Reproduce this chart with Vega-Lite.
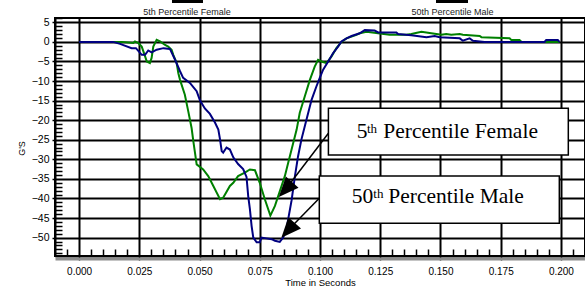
{
  "$schema": "https://vega.github.io/schema/vega-lite/v6.json",
  "width": 530,
  "height": 238,
  "autosize": {"type": "none"},
  "padding": {"left": 55, "top": 18, "right": 0, "bottom": 35},
  "background": "white",
  "config": {
    "view": {"stroke": "black", "strokeWidth": 2},
    "axis": {"labelFont": "Liberation Sans", "titleFont": "Liberation Sans", "labelColor": "black", "titleColor": "black", "titleFontWeight": "normal"}
  },
  "datasets": {
    "curves": [
      {"series": "5th Percentile Female", "time": 0, "gs": 0},
      {"series": "5th Percentile Female", "time": 0.0177, "gs": 0},
      {"series": "5th Percentile Female", "time": 0.0225, "gs": -0.3},
      {"series": "5th Percentile Female", "time": 0.0232, "gs": 0.1},
      {"series": "5th Percentile Female", "time": 0.0246, "gs": -0.3},
      {"series": "5th Percentile Female", "time": 0.026, "gs": -1.2},
      {"series": "5th Percentile Female", "time": 0.0274, "gs": -3.7},
      {"series": "5th Percentile Female", "time": 0.0281, "gs": -5.0},
      {"series": "5th Percentile Female", "time": 0.0294, "gs": -5.4},
      {"series": "5th Percentile Female", "time": 0.0301, "gs": -4.1},
      {"series": "5th Percentile Female", "time": 0.0308, "gs": -1.2},
      {"series": "5th Percentile Female", "time": 0.0322, "gs": 0.5},
      {"series": "5th Percentile Female", "time": 0.0336, "gs": 0.1},
      {"series": "5th Percentile Female", "time": 0.0357, "gs": -0.8},
      {"series": "5th Percentile Female", "time": 0.037, "gs": -1.2},
      {"series": "5th Percentile Female", "time": 0.0384, "gs": -2.0},
      {"series": "5th Percentile Female", "time": 0.0391, "gs": -3.3},
      {"series": "5th Percentile Female", "time": 0.0405, "gs": -5.4},
      {"series": "5th Percentile Female", "time": 0.0412, "gs": -8.0},
      {"series": "5th Percentile Female", "time": 0.0419, "gs": -9.7},
      {"series": "5th Percentile Female", "time": 0.0439, "gs": -13.5},
      {"series": "5th Percentile Female", "time": 0.0453, "gs": -17.7},
      {"series": "5th Percentile Female", "time": 0.0467, "gs": -22.0},
      {"series": "5th Percentile Female", "time": 0.0474, "gs": -25.3},
      {"series": "5th Percentile Female", "time": 0.0481, "gs": -28.3},
      {"series": "5th Percentile Female", "time": 0.0488, "gs": -31.3},
      {"series": "5th Percentile Female", "time": 0.0515, "gs": -32.6},
      {"series": "5th Percentile Female", "time": 0.0536, "gs": -34.3},
      {"series": "5th Percentile Female", "time": 0.0543, "gs": -35.1},
      {"series": "5th Percentile Female", "time": 0.0585, "gs": -40.2},
      {"series": "5th Percentile Female", "time": 0.0598, "gs": -39.8},
      {"series": "5th Percentile Female", "time": 0.0626, "gs": -36.8},
      {"series": "5th Percentile Female", "time": 0.064, "gs": -36.0},
      {"series": "5th Percentile Female", "time": 0.066, "gs": -34.3},
      {"series": "5th Percentile Female", "time": 0.0688, "gs": -33.4},
      {"series": "5th Percentile Female", "time": 0.0709, "gs": -32.6},
      {"series": "5th Percentile Female", "time": 0.073, "gs": -32.8},
      {"series": "5th Percentile Female", "time": 0.075, "gs": -36.0},
      {"series": "5th Percentile Female", "time": 0.0771, "gs": -40.2},
      {"series": "5th Percentile Female", "time": 0.0794, "gs": -44.4},
      {"series": "5th Percentile Female", "time": 0.0813, "gs": -41.9},
      {"series": "5th Percentile Female", "time": 0.0833, "gs": -38.2},
      {"series": "5th Percentile Female", "time": 0.0854, "gs": -34.3},
      {"series": "5th Percentile Female", "time": 0.0868, "gs": -30.9},
      {"series": "5th Percentile Female", "time": 0.0882, "gs": -27.5},
      {"series": "5th Percentile Female", "time": 0.0903, "gs": -22.4},
      {"series": "5th Percentile Female", "time": 0.0916, "gs": -18.1},
      {"series": "5th Percentile Female", "time": 0.0937, "gs": -13.9},
      {"series": "5th Percentile Female", "time": 0.0958, "gs": -9.7},
      {"series": "5th Percentile Female", "time": 0.0978, "gs": -6.3},
      {"series": "5th Percentile Female", "time": 0.0992, "gs": -4.6},
      {"series": "5th Percentile Female", "time": 0.1006, "gs": -5.0},
      {"series": "5th Percentile Female", "time": 0.1027, "gs": -5.4},
      {"series": "5th Percentile Female", "time": 0.1048, "gs": -3.7},
      {"series": "5th Percentile Female", "time": 0.1068, "gs": -1.6},
      {"series": "5th Percentile Female", "time": 0.1089, "gs": 0.0},
      {"series": "5th Percentile Female", "time": 0.111, "gs": 0.9},
      {"series": "5th Percentile Female", "time": 0.1151, "gs": 1.8},
      {"series": "5th Percentile Female", "time": 0.1165, "gs": 2.2},
      {"series": "5th Percentile Female", "time": 0.1193, "gs": 2.6},
      {"series": "5th Percentile Female", "time": 0.1241, "gs": 2.2},
      {"series": "5th Percentile Female", "time": 0.1289, "gs": 1.8},
      {"series": "5th Percentile Female", "time": 0.1359, "gs": 1.8},
      {"series": "5th Percentile Female", "time": 0.1379, "gs": 2.0},
      {"series": "5th Percentile Female", "time": 0.1421, "gs": 2.6},
      {"series": "5th Percentile Female", "time": 0.1462, "gs": 2.2},
      {"series": "5th Percentile Female", "time": 0.1504, "gs": 1.8},
      {"series": "5th Percentile Female", "time": 0.1524, "gs": 2.0},
      {"series": "5th Percentile Female", "time": 0.1545, "gs": 1.8},
      {"series": "5th Percentile Female", "time": 0.158, "gs": 2.0},
      {"series": "5th Percentile Female", "time": 0.1593, "gs": 1.8},
      {"series": "5th Percentile Female", "time": 0.1663, "gs": 1.5},
      {"series": "5th Percentile Female", "time": 0.167, "gs": 1.2},
      {"series": "5th Percentile Female", "time": 0.1787, "gs": 0.9},
      {"series": "5th Percentile Female", "time": 0.1794, "gs": 0.5},
      {"series": "5th Percentile Female", "time": 0.1828, "gs": 0.5},
      {"series": "5th Percentile Female", "time": 0.1837, "gs": 0.0},
      {"series": "5th Percentile Female", "time": 0.1994, "gs": 0.0},
      {"series": "50th Percentile Male", "time": 0, "gs": 0},
      {"series": "50th Percentile Male", "time": 0.0141, "gs": 0},
      {"series": "50th Percentile Male", "time": 0.017, "gs": -0.5},
      {"series": "50th Percentile Male", "time": 0.0218, "gs": -1.6},
      {"series": "50th Percentile Male", "time": 0.0236, "gs": -1.6},
      {"series": "50th Percentile Male", "time": 0.026, "gs": -3.3},
      {"series": "50th Percentile Male", "time": 0.0274, "gs": -3.3},
      {"series": "50th Percentile Male", "time": 0.0287, "gs": -2.2},
      {"series": "50th Percentile Male", "time": 0.0301, "gs": -2.7},
      {"series": "50th Percentile Male", "time": 0.0322, "gs": -2.0},
      {"series": "50th Percentile Male", "time": 0.035, "gs": -1.6},
      {"series": "50th Percentile Male", "time": 0.0377, "gs": -1.8},
      {"series": "50th Percentile Male", "time": 0.0398, "gs": -4.5},
      {"series": "50th Percentile Male", "time": 0.0419, "gs": -7.5},
      {"series": "50th Percentile Male", "time": 0.0432, "gs": -9.2},
      {"series": "50th Percentile Male", "time": 0.046, "gs": -10.5},
      {"series": "50th Percentile Male", "time": 0.0488, "gs": -12.6},
      {"series": "50th Percentile Male", "time": 0.0502, "gs": -15.0},
      {"series": "50th Percentile Male", "time": 0.0522, "gs": -17.0},
      {"series": "50th Percentile Male", "time": 0.0543, "gs": -18.4},
      {"series": "50th Percentile Male", "time": 0.0564, "gs": -20.6},
      {"series": "50th Percentile Male", "time": 0.0578, "gs": -22.4},
      {"series": "50th Percentile Male", "time": 0.0585, "gs": -24.9},
      {"series": "50th Percentile Male", "time": 0.0592, "gs": -27.9},
      {"series": "50th Percentile Male", "time": 0.0598, "gs": -28.3},
      {"series": "50th Percentile Male", "time": 0.0612, "gs": -27.0},
      {"series": "50th Percentile Male", "time": 0.0626, "gs": -27.5},
      {"series": "50th Percentile Male", "time": 0.064, "gs": -29.5},
      {"series": "50th Percentile Male", "time": 0.066, "gs": -31.2},
      {"series": "50th Percentile Male", "time": 0.0681, "gs": -32.5},
      {"series": "50th Percentile Male", "time": 0.0695, "gs": -34.5},
      {"series": "50th Percentile Male", "time": 0.0702, "gs": -39.4},
      {"series": "50th Percentile Male", "time": 0.0709, "gs": -42.7},
      {"series": "50th Percentile Male", "time": 0.0716, "gs": -47.0},
      {"series": "50th Percentile Male", "time": 0.0723, "gs": -50.0},
      {"series": "50th Percentile Male", "time": 0.0737, "gs": -51.2},
      {"series": "50th Percentile Male", "time": 0.075, "gs": -51.2},
      {"series": "50th Percentile Male", "time": 0.0757, "gs": -50.0},
      {"series": "50th Percentile Male", "time": 0.0778, "gs": -50.2},
      {"series": "50th Percentile Male", "time": 0.0799, "gs": -50.4},
      {"series": "50th Percentile Male", "time": 0.0813, "gs": -50.8},
      {"series": "50th Percentile Male", "time": 0.0833, "gs": -51.1},
      {"series": "50th Percentile Male", "time": 0.0847, "gs": -50.0},
      {"series": "50th Percentile Male", "time": 0.0861, "gs": -47.8},
      {"series": "50th Percentile Male", "time": 0.0868, "gs": -45.3},
      {"series": "50th Percentile Male", "time": 0.0882, "gs": -40.5},
      {"series": "50th Percentile Male", "time": 0.0896, "gs": -34.3},
      {"series": "50th Percentile Male", "time": 0.0909, "gs": -29.2},
      {"series": "50th Percentile Male", "time": 0.0923, "gs": -24.9},
      {"series": "50th Percentile Male", "time": 0.0944, "gs": -19.8},
      {"series": "50th Percentile Male", "time": 0.0965, "gs": -14.8},
      {"series": "50th Percentile Male", "time": 0.0985, "gs": -11.4},
      {"series": "50th Percentile Male", "time": 0.0999, "gs": -9.2},
      {"series": "50th Percentile Male", "time": 0.1013, "gs": -7.1},
      {"series": "50th Percentile Male", "time": 0.1034, "gs": -5.0},
      {"series": "50th Percentile Male", "time": 0.1054, "gs": -2.9},
      {"series": "50th Percentile Male", "time": 0.1075, "gs": -1.2},
      {"series": "50th Percentile Male", "time": 0.1089, "gs": 0.1},
      {"series": "50th Percentile Male", "time": 0.111, "gs": 0.9},
      {"series": "50th Percentile Male", "time": 0.1131, "gs": 1.5},
      {"series": "50th Percentile Male", "time": 0.1165, "gs": 2.2},
      {"series": "50th Percentile Male", "time": 0.1186, "gs": 3.0},
      {"series": "50th Percentile Male", "time": 0.1227, "gs": 2.9},
      {"series": "50th Percentile Male", "time": 0.1241, "gs": 2.4},
      {"series": "50th Percentile Male", "time": 0.1317, "gs": 2.4},
      {"series": "50th Percentile Male", "time": 0.1324, "gs": 2.0},
      {"series": "50th Percentile Male", "time": 0.1379, "gs": 1.7},
      {"series": "50th Percentile Male", "time": 0.1442, "gs": 1.2},
      {"series": "50th Percentile Male", "time": 0.1476, "gs": 1.5},
      {"series": "50th Percentile Male", "time": 0.1497, "gs": 1.2},
      {"series": "50th Percentile Male", "time": 0.158, "gs": 0.9},
      {"series": "50th Percentile Male", "time": 0.1593, "gs": 0.3},
      {"series": "50th Percentile Male", "time": 0.1621, "gs": 0.9},
      {"series": "50th Percentile Male", "time": 0.1635, "gs": 0.3},
      {"series": "50th Percentile Male", "time": 0.1683, "gs": 0.0},
      {"series": "50th Percentile Male", "time": 0.1932, "gs": 0.0},
      {"series": "50th Percentile Male", "time": 0.1939, "gs": 0.5},
      {"series": "50th Percentile Male", "time": 0.1987, "gs": 0.5},
      {"series": "50th Percentile Male", "time": 0.1994, "gs": 0.0}
    ],
    "boxes": [
      {"x1": 0.10349, "x2": 0.20307, "y1": -16.97, "y2": -28.9},
      {"x1": 0.09971, "x2": 0.19934, "y1": -34.27, "y2": -46.35}
    ],
    "arrows": [
      {"x1": 0.10349, "y1": -23.36, "x2": 0.08568, "y2": -37.72},
      {"x1": 0.09971, "y1": -39.97, "x2": 0.08672, "y2": -48.14}
    ],
    "notes": [
      {"txt": "5", "kind": "main", "x": 0.11523, "y": -24.48},
      {"txt": "th", "kind": "sup", "x": 0.11951, "y": -23.2},
      {"txt": "Percentile Female", "kind": "main", "x": 0.12628, "y": -24.48},
      {"txt": "50", "kind": "main", "x": 0.11316, "y": -41.24},
      {"txt": "th", "kind": "sup", "x": 0.12213, "y": -39.9},
      {"txt": "Percentile Male", "kind": "main", "x": 0.12835, "y": -41.24}
    ],
    "keys": [
      {"txt": "5th Percentile Female", "x": 0.04479, "y": 6.79, "x1": 0.03856, "x2": 0.05143, "y1": 9.93, "y2": 11.5},
      {"txt": "50th Percentile Male", "x": 0.155, "y": 6.79, "x1": 0.14815, "x2": 0.16144, "y1": 9.93, "y2": 11.5}
    ]
  },
  "resolve": {"axis": {"x": "independent"}},
  "layer": [
    {
      "data": {"name": "curves"},
      "transform": [{"filter": "datum.series === '5th Percentile Female'"}],
      "mark": {"type": "line", "color": "#008000", "strokeWidth": 2},
      "encoding": {
        "x": {
          "field": "time", "type": "quantitative",
          "scale": {"domain": [-0.01, 0.21], "nice": false, "zero": false},
          "axis": {
            "values": [-0.005, 0, 0.005, 0.01, 0.015, 0.02, 0.025, 0.03, 0.035, 0.04, 0.045, 0.05, 0.055, 0.06, 0.065, 0.07, 0.075, 0.08, 0.085, 0.09, 0.095, 0.1, 0.105, 0.11, 0.115, 0.12, 0.125, 0.13, 0.135, 0.14, 0.145, 0.15, 0.155, 0.16, 0.165, 0.17, 0.175, 0.18, 0.185, 0.19, 0.195, 0.2, 0.205],
            "tickCount": 1000,
            "format": ".3f",
            "labelExpr": "abs(round(datum.value*1000)) % 25 === 0 ? datum.label : ''",
            "grid": true, "gridColor": "black", "gridWidth": 2,
            "gridOpacity": {"condition": {"test": "abs(round(datum.value*1000)) % 25 === 0", "value": 1}, "value": 0},
            "tickColor": "black", "tickWidth": 1.5,
            "tickSize": {"condition": {"test": "abs(round(datum.value*1000)) % 25 === 0", "value": 4}, "value": -7},
            "labelPadding": 6, "labelFontSize": 10, "labelOverlap": false, "labelBound": false, "labelFlush": false,
            "domainColor": "black", "domainWidth": 2,
            "title": "Time in Seconds", "titleFontSize": 9.5, "titlePadding": 1
          }
        },
        "y": {
          "field": "gs", "type": "quantitative",
          "scale": {"domain": [-54.7, 6.1], "nice": false, "zero": false},
          "axis": {
            "values": [-54, -53, -52, -51, -50, -49, -48, -47, -46, -45, -44, -43, -42, -41, -40, -39, -38, -37, -36, -35, -34, -33, -32, -31, -30, -29, -28, -27, -26, -25, -24, -23, -22, -21, -20, -19, -18, -17, -16, -15, -14, -13, -12, -11, -10, -9, -8, -7, -6, -5, -4, -3, -2, -1, 0, 1, 2, 3, 4, 5, 6],
            "tickCount": 1000,
            "format": "d",
            "labelExpr": "datum.value % 5 === 0 ? datum.label : ''",
            "grid": true, "gridColor": "black", "gridWidth": 2,
            "gridOpacity": {"condition": {"test": "datum.value % 5 === 0", "value": 1}, "value": 0},
            "tickColor": "black", "tickWidth": 1.5,
            "tickSize": {"condition": {"test": "datum.value % 5 === 0", "value": 3}, "value": -7},
            "labelPadding": 3, "labelFontSize": 10.5, "labelOverlap": false, "labelBound": false, "labelFlush": false,
            "domainColor": "black", "domainWidth": 2,
            "title": "G'S", "titleFontSize": 9, "titleAngle": 270, "titleX": -34, "titleY": 130,
            "titleAlign": "center", "titleBaseline": "middle"
          }
        }
      }
    },
    {
      "data": {"name": "curves"},
      "transform": [{"filter": "datum.series === '50th Percentile Male'"}],
      "mark": {"type": "line", "color": "#000080", "strokeWidth": 2},
      "encoding": {
        "x": {
          "field": "time", "type": "quantitative",
          "axis": {"orient": "bottom", "offset": 2.5, "domainColor": "#8c8c8c", "domainWidth": 3, "ticks": false, "labels": false, "grid": false, "title": null}
        },
        "y": {"field": "gs", "type": "quantitative"}
      }
    },
    {
      "data": {"name": "boxes"},
      "mark": {"type": "rect", "fill": "white", "stroke": "black", "strokeWidth": 1.5},
      "encoding": {
        "x": {"field": "x1", "type": "quantitative", "axis": null},
        "x2": {"field": "x2"},
        "y": {"field": "y1", "type": "quantitative"},
        "y2": {"field": "y2"}
      }
    },
    {
      "data": {"name": "arrows"},
      "mark": {"type": "rule", "color": "black", "strokeWidth": 1.5},
      "encoding": {
        "x": {"field": "x1", "type": "quantitative", "axis": null},
        "x2": {"field": "x2"},
        "y": {"field": "y1", "type": "quantitative"},
        "y2": {"field": "y2"}
      }
    },
    {
      "data": {"name": "arrows"},
      "mark": {"type": "point", "shape": "M0,-1L0.85,1L-0.85,1Z", "filled": true, "color": "black", "opacity": 1, "size": 400, "angle": 222},
      "encoding": {
        "x": {"field": "x2", "type": "quantitative", "axis": null},
        "y": {"field": "y2", "type": "quantitative"}
      }
    },
    {
      "data": {"name": "notes"},
      "transform": [{"filter": "datum.kind === 'main'"}],
      "mark": {"type": "text", "font": "Liberation Serif", "fontSize": 21.5, "align": "left", "baseline": "alphabetic", "color": "black"},
      "encoding": {
        "x": {"field": "x", "type": "quantitative", "axis": null},
        "y": {"field": "y", "type": "quantitative"},
        "text": {"field": "txt"}
      }
    },
    {
      "data": {"name": "notes"},
      "transform": [{"filter": "datum.kind === 'sup'"}],
      "mark": {"type": "text", "font": "Liberation Serif", "fontSize": 13, "align": "left", "baseline": "alphabetic", "color": "black"},
      "encoding": {
        "x": {"field": "x", "type": "quantitative", "axis": null},
        "y": {"field": "y", "type": "quantitative"},
        "text": {"field": "txt"}
      }
    },
    {
      "data": {"name": "keys"},
      "mark": {"type": "text", "font": "Liberation Sans", "fontSize": 9, "align": "center", "baseline": "alphabetic", "color": "#222222"},
      "encoding": {
        "x": {"field": "x", "type": "quantitative", "axis": null},
        "y": {"field": "y", "type": "quantitative"},
        "text": {"field": "txt"}
      }
    },
    {
      "data": {"name": "keys"},
      "mark": {"type": "rect", "fill": "black"},
      "encoding": {
        "x": {"field": "x1", "type": "quantitative", "axis": null},
        "x2": {"field": "x2"},
        "y": {"field": "y1", "type": "quantitative"},
        "y2": {"field": "y2"}
      }
    }
  ]
}
